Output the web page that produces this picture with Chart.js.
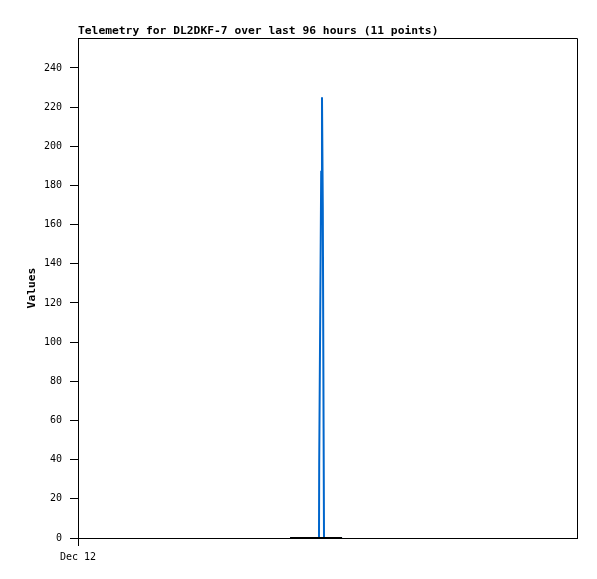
<!DOCTYPE html>
<html lang="en">
<head>
    <meta charset="UTF-8">
    <title>Telemetry</title>
    <script src="https://cdn.jsdelivr.net/npm/chart.js"></script>
    <style>
        body { margin: 0; background: #fff; }
        canvas { display: block; }
    </style>
</head>
<body>
    <canvas id="telemetryChart" width="597" height="579"></canvas>
    <script>
        // Data (time in hours after Dec 12 00:00)
        const times = [10.20, 10.92, 11.591, 11.601, 11.649, 11.697, 11.735, 11.774, 11.812, 11.832, 12.70];
        const spikeValues = [0, 0, 0, 38, 112, 187, 225, 168, 56, 0, 0];
        const baseValues = [0, 0, 0, 0, 0, 0, 0, 0, 0, 0, 0];
        const yTicks = [0, 20, 40, 60, 80, 100, 120, 140, 160, 180, 200, 220, 240];
        const xTicks = [0];
        const xTickLabels = ['Dec 12'];
        const chartTitle = 'Telemetry for DL2DKF-7 over last 96 hours (11 points)';
        const yTitle = 'Values';

        const MONO = '"DejaVu Sans Mono", "Liberation Mono", monospace';

        // frame + texts
        const framePlugin = {
            id: 'frame',
            afterDraw(chart) {
                const { ctx, chartArea: a } = chart;
                ctx.save();
                ctx.strokeStyle = '#000';
                ctx.lineWidth = 1;
                ctx.beginPath();
                ctx.moveTo(a.left, a.top + 0.5);
                ctx.lineTo(a.right + 0.5, a.top + 0.5);
                ctx.lineTo(a.right + 0.5, a.bottom);
                ctx.stroke();

                ctx.fillStyle = '#000';
                ctx.font = 'bold 11.3px ' + MONO;
                ctx.textAlign = 'left';
                ctx.textBaseline = 'middle';
                ctx.fillText(chartTitle, a.left, 31);

                ctx.translate(32, (a.top + a.bottom) / 2);
                ctx.rotate(-Math.PI / 2);
                ctx.textAlign = 'center';
                ctx.fillText(yTitle, 0, 0);
                ctx.restore();
            }
        };

        const ctx = document.getElementById('telemetryChart').getContext('2d');
        new Chart(ctx, {
            type: 'line',
            data: {
                datasets: [{
                    data: times.map((t, i) => ({ x: t, y: baseValues[i] })),
                    borderColor: '#000',
                    borderWidth: 2,
                    pointRadius: 0,
                    tension: 0
                }, {
                    data: times.map((t, i) => ({ x: t, y: spikeValues[i] })),
                    borderColor: '#0066cc',
                    borderWidth: 2,
                    pointRadius: 0,
                    tension: 0
                }]
            },
            options: {
                responsive: false,
                animation: false,
                layout: { padding: { left: 0, top: 38, right: 20, bottom: 0 } },
                plugins: {
                    legend: { display: false },
                    tooltip: { enabled: false }
                },
                scales: {
                    x: {
                        type: 'linear',
                        min: 0,
                        max: 24,
                        afterBuildTicks: axis => { axis.ticks = xTicks.map(v => ({ value: v })); },
                        afterFit: axis => { axis.height = 41; },
                        ticks: {
                            color: '#000',
                            font: { family: MONO, size: 10 },
                            padding: 5,
                            maxRotation: 0,
                            callback: (v, i) => xTickLabels[i]
                        },
                        grid: { drawOnChartArea: false, tickLength: 8, color: '#000' },
                        border: { color: '#000', width: 1 }
                    },
                    y: {
                        min: 0,
                        max: 255.3,
                        afterBuildTicks: axis => { axis.ticks = yTicks.map(v => ({ value: v })); },
                        afterFit: axis => { axis.width = 78; },
                        ticks: {
                            color: '#000',
                            font: { family: MONO, size: 10 },
                            padding: 8
                        },
                        grid: { drawOnChartArea: false, tickLength: 8, color: '#000' },
                        border: { color: '#000', width: 1 }
                    }
                }
            },
            plugins: [framePlugin]
        });
    </script>
</body>
</html>
